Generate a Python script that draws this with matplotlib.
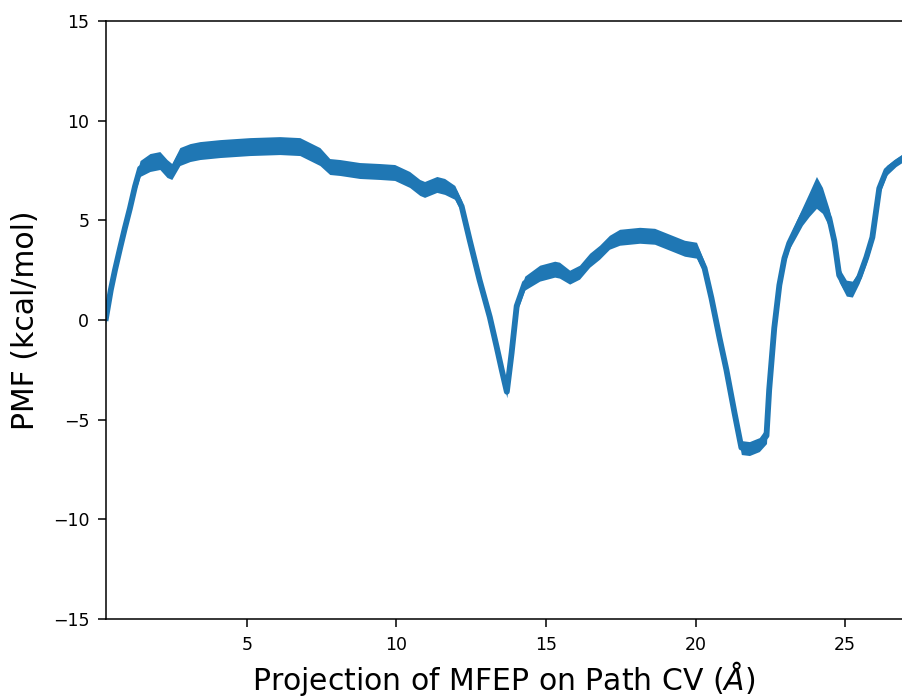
import matplotlib
matplotlib.use('Agg')
import matplotlib.pyplot as plt
import numpy as np

# PMF along the path CV
cv = [0.29, 0.45, 0.59, 0.76, 0.92, 1.09, 1.26, 1.43, 1.76, 2.09,
      2.33, 2.49, 2.76, 3.10, 3.43, 4.10, 5.10, 6.10, 6.77, 7.44,
      7.77, 8.11, 8.77, 9.44, 9.94, 10.44, 10.78, 10.94, 11.35, 11.61,
      11.95, 12.18, 12.45, 12.78, 13.12, 13.35, 13.52, 13.69, 13.85, 14.02,
      14.29, 14.79, 15.29, 15.45, 15.79, 16.12, 16.46, 16.79, 17.12, 17.46,
      18.13, 18.63, 19.13, 19.63, 20.03, 20.30, 20.53, 20.80, 21.03, 21.30,
      21.53, 21.80, 22.13, 22.37, 22.46, 22.63, 22.80, 22.97, 23.13, 23.37,
      23.57, 23.80, 24.04, 24.24, 24.47, 24.64, 24.80, 25.04, 25.24, 25.47,
      25.71, 25.91, 26.14, 26.38, 26.70, 27.00]
pmf = [0.1, 1.5, 2.5, 3.6, 4.6, 5.6, 6.7, 7.6, 7.9, 8.0,
       7.6, 7.45, 8.2, 8.4, 8.5, 8.6, 8.7, 8.75, 8.7, 8.2,
       7.7, 7.65, 7.5, 7.45, 7.4, 7.05, 6.65, 6.55, 6.8, 6.7,
       6.4, 5.7, 4.0, 2.0, 0.15, -1.35, -2.5, -3.6, -1.65, 0.7,
       1.85, 2.35, 2.55, 2.5, 2.15, 2.4, 3.0, 3.4, 3.9, 4.15,
       4.25, 4.2, 3.9, 3.6, 3.5, 2.6, 1.1, -0.9, -2.5, -4.65,
       -6.4, -6.45, -6.25, -5.8, -3.5, -0.4, 1.75, 3.1, 3.85, 4.6,
       5.2, 5.8, 6.4, 6.0, 5.1, 3.95, 2.25, 1.6, 1.55, 2.15,
       3.15, 4.15, 6.6, 7.5, 7.9, 8.2]
err = [0.3, 0.25, 0.25, 0.25, 0.25, 0.3, 0.3, 0.4, 0.45, 0.45,
       0.45, 0.4, 0.45, 0.45, 0.45, 0.45, 0.45, 0.45, 0.45, 0.45,
       0.4, 0.4, 0.4, 0.4, 0.4, 0.4, 0.4, 0.4, 0.4, 0.4,
       0.35, 0.3, 0.3, 0.3, 0.3, 0.3, 0.3, 0.3, 0.3, 0.3,
       0.35, 0.4, 0.4, 0.4, 0.35, 0.35, 0.35, 0.35, 0.35, 0.4,
       0.4, 0.4, 0.4, 0.4, 0.4, 0.3, 0.3, 0.3, 0.3, 0.3,
       0.35, 0.35, 0.35, 0.4, 0.3, 0.3, 0.3, 0.3, 0.3, 0.4,
       0.45, 0.6, 0.8, 0.65, 0.45, 0.35, 0.35, 0.4, 0.4, 0.3,
       0.3, 0.3, 0.3, 0.25, 0.2, 0.2]

cv = np.array(cv)
pmf = np.array(pmf)
err = np.array(err)

fig = plt.figure(figsize=(9.02, 6.98), dpi=100)
ax = fig.add_axes([0.1175, 0.1132, 0.8825, 0.8567])

color = '#1f77b4'
ax.fill_between(cv, pmf - err, pmf + err, color=color, lw=0)
ax.plot(cv, pmf, color=color, lw=4.2)

ax.set_xlim(0.29, 26.9)
ax.set_ylim(-15, 15)
ax.set_xticks([5, 10, 15, 20, 25])
ax.set_yticks([-15, -10, -5, 0, 5, 10, 15])
ax.spines['right'].set_visible(False)
for s in ax.spines.values():
    s.set_linewidth(1.1)
ax.tick_params(labelsize=12.5, length=6, width=1.1, pad=6)

ax.set_xlabel(r'Projection of MFEP on Path CV ($\AA$)', fontsize=21.5, labelpad=4)
ax.set_ylabel('PMF (kcal/mol)', fontsize=21.5, labelpad=9)

fig.savefig('out.png', dpi=100)
